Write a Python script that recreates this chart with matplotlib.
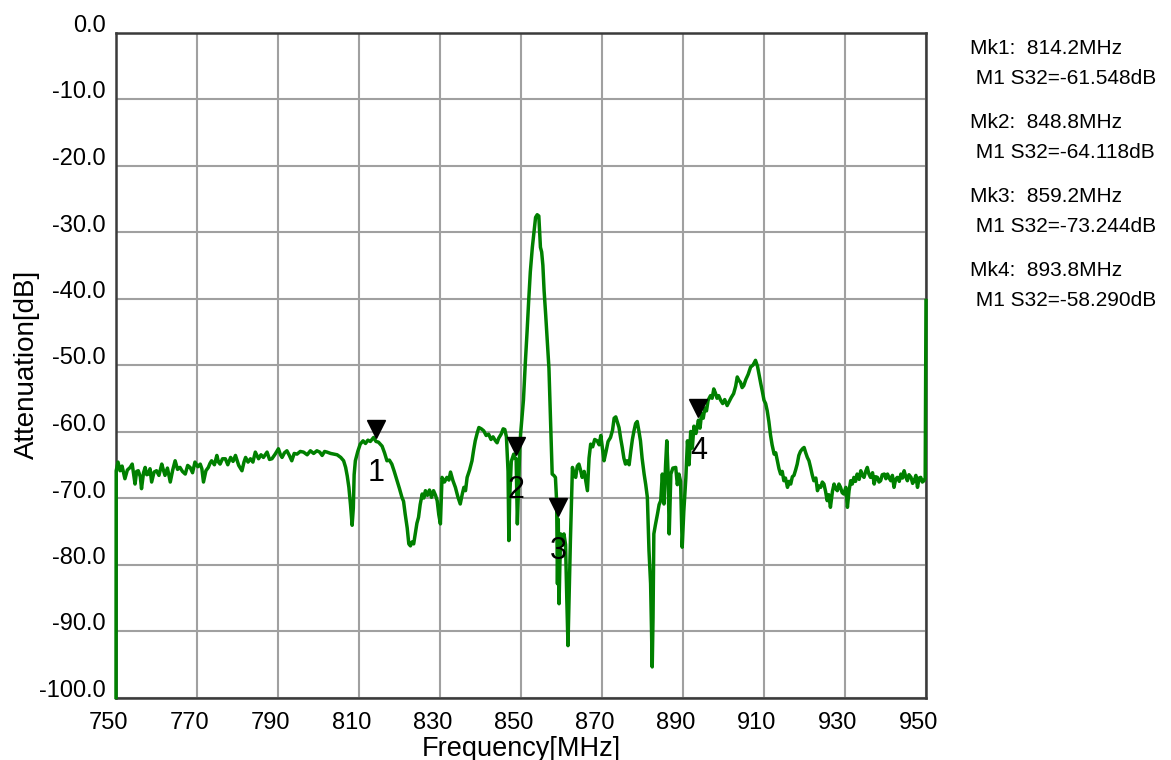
import matplotlib
matplotlib.use("Agg")
import matplotlib.pyplot as plt
import matplotlib.transforms as mtransforms

plt.rcParams['font.family'] = ['Liberation Sans', 'DejaVu Sans']

# ---------------- data ----------------
freq_mhz = [
    750.0, 750.05, 750.5, 751.0, 751.5, 752.2, 752.8, 753.5, 754.0, 754.7, 755.1, 755.5, 756.0, 756.3, 756.8,
    757.2, 757.6, 758.0, 758.4, 758.8, 759.4, 760.0, 760.6, 761.3, 761.7, 762.1, 762.7, 763.4, 764.0, 764.6,
    765.2, 765.8, 766.4, 767.1, 767.7, 768.3, 768.9, 769.5, 770.2, 770.8, 771.2, 771.6, 772.2, 772.8, 773.2,
    773.6, 774.3, 774.9, 775.3, 775.7, 776.3, 777.0, 777.6, 778.3, 778.9, 779.5, 780.3, 781.1, 781.6, 782.0,
    782.6, 783.2, 783.8, 784.4, 785.2, 785.8, 786.4, 787.3, 787.9, 788.5, 789.3, 790.1, 790.6, 791.0, 791.6,
    792.2, 792.8, 793.4, 794.0, 794.7, 795.5, 796.3, 797.2, 798.0, 798.8, 799.6, 800.3, 800.9, 801.5, 802.1,
    803.0, 803.8, 804.6, 805.5, 806.2, 806.7, 807.1, 807.5, 807.9, 808.3, 808.6, 808.8, 809.1, 809.7, 810.3,
    811.0, 811.6, 812.2, 812.8, 813.6, 814.2, 814.8, 815.7, 816.3, 816.9, 817.5, 818.1, 818.7, 819.4, 820.0,
    820.6, 821.0, 821.4, 821.9, 822.3, 822.7, 823.1, 823.5, 823.9, 824.3, 824.7, 825.1, 825.6, 826.0, 826.4,
    826.9, 827.4, 827.9, 828.4, 828.9, 829.3, 829.7, 830.1, 830.5, 831.1, 831.7, 832.2, 832.6, 833.2, 833.8,
    834.4, 835.0, 835.5, 835.9, 836.3, 836.7, 837.3, 837.9, 838.3, 838.7, 839.2, 839.6, 840.2, 840.8, 841.4,
    842.0, 842.6, 843.1, 843.7, 844.1, 844.5, 845.1, 845.6, 846.0, 846.4, 846.8, 847.0, 847.2, 847.6, 848.2,
    848.5, 848.8, 849.1, 849.4, 849.7, 849.9, 850.3, 850.6, 851.1, 851.5, 851.9, 852.3, 852.8, 853.2, 853.6,
    854.0, 854.4, 854.8, 855.1, 855.4, 855.7, 856.1, 856.5, 856.9, 857.3, 857.7, 858.1, 858.5, 858.8, 859.0,
    859.2, 859.4, 859.6, 859.8, 860.2, 860.6, 861.0, 861.3, 861.6, 861.9, 862.2, 862.7, 863.1, 863.5, 863.9,
    864.3, 864.7, 865.1, 865.6, 866.0, 866.4, 866.8, 867.2, 867.7, 868.2, 868.8, 869.3, 869.7, 870.1, 870.5,
    871.0, 871.5, 872.1, 872.6, 873.0, 873.4, 873.8, 874.2, 874.6, 875.0, 875.4, 875.8, 876.2, 876.7, 877.1,
    877.5, 877.9, 878.3, 878.7, 879.1, 879.5, 879.9, 880.4, 880.8, 881.2, 881.6, 882.0, 882.4, 882.6, 882.8,
    883.2, 883.7, 884.1, 884.5, 884.9, 885.3, 885.7, 886.0, 886.3, 886.6, 887.0, 887.5, 888.2, 888.6, 889.0,
    889.4, 889.8, 890.2, 890.7, 891.1, 891.5, 891.9, 892.3, 892.7, 893.2, 893.8, 894.2, 894.6, 895.0, 895.4,
    895.8, 896.2, 896.8, 897.2, 897.6, 898.0, 898.4, 898.8, 899.3, 899.8, 900.3, 900.9, 901.4, 901.9, 902.5,
    903.0, 903.4, 903.8, 904.2, 904.6, 905.0, 905.5, 906.1, 906.7, 907.3, 907.9, 908.4, 908.8, 909.2, 909.6,
    910.0, 910.4, 910.8, 911.2, 911.6, 912.0, 912.5, 912.9, 913.3, 913.7, 914.1, 914.5, 914.9, 915.3, 915.8,
    916.2, 916.6, 917.0, 917.4, 917.8, 918.2, 918.6, 919.0, 919.5, 919.9, 920.3, 920.7, 921.1, 921.5, 921.9,
    922.3, 922.8, 923.2, 923.6, 924.0, 924.4, 924.8, 925.2, 925.6, 926.0, 926.4, 926.9, 927.3, 927.7, 928.1,
    928.5, 928.9, 929.3, 929.7, 930.2, 930.6, 931.0, 931.4, 931.8, 932.2, 932.6, 933.0, 933.5, 933.9, 934.3,
    934.7, 935.1, 935.5, 935.9, 936.3, 936.8, 937.2, 937.6, 938.0, 938.4, 938.8, 939.2, 939.7, 940.1, 940.5,
    940.9, 941.3, 941.7, 942.1, 942.5, 942.9, 943.4, 943.8, 944.2, 944.6, 945.0, 945.4, 945.8, 946.3, 946.7,
    947.1, 947.5, 947.9, 948.3, 948.7, 949.1, 949.5, 949.8, 950.0,
]

atten_db = [
    -100.0, -65.9, -64.6, -65.9, -65.2, -67.1, -65.8, -65.4, -64.9, -67.9, -66.0, -65.9, -66.8, -68.6, -66.2,
    -65.4, -66.5, -66.4, -65.6, -67.6, -66.1, -65.9, -66.6, -64.9, -65.8, -66.6, -65.5, -67.6, -65.8, -64.4,
    -65.7, -65.4, -66.0, -66.4, -65.1, -65.4, -66.2, -64.6, -65.3, -64.9, -65.6, -67.6, -65.9, -65.4, -64.8,
    -64.4, -65.0, -63.6, -64.6, -64.9, -64.1, -64.1, -65.0, -63.9, -64.5, -63.6, -65.1, -65.9, -64.6, -63.9,
    -64.6, -64.1, -64.6, -63.1, -64.1, -63.5, -63.9, -63.1, -64.2, -64.1, -63.4, -62.6, -63.5, -63.9, -63.2,
    -62.9, -63.6, -64.4, -63.3, -63.4, -63.0, -63.1, -63.5, -62.9, -63.3, -62.9, -63.1, -63.6, -63.0, -63.1,
    -63.3, -63.4, -63.5, -63.9, -64.4, -65.4, -66.7, -68.4, -71.0, -74.1, -71.5, -66.5, -64.4, -63.0, -61.9,
    -61.4, -61.8, -61.3, -61.5, -60.9, -61.5, -61.6, -62.2, -63.2, -64.4, -64.3, -64.9, -66.0, -67.4, -68.6,
    -69.9, -70.5, -72.4, -74.5, -76.9, -77.2, -76.6, -76.9, -75.4, -73.8, -72.9, -71.0, -69.4, -70.0, -68.9,
    -69.6, -68.8, -69.9, -68.9, -69.6, -70.4, -72.5, -73.9, -66.9, -67.6, -66.9, -67.3, -66.1, -67.4, -68.4,
    -69.8, -70.9, -69.4, -68.4, -68.9, -66.9, -65.8, -64.4, -62.8, -61.4, -60.2, -59.4, -59.6, -59.9, -60.6,
    -60.4, -61.2, -60.8, -61.4, -61.7, -61.0, -60.4, -59.6, -59.7, -60.8, -66.0, -76.4, -70.0, -64.5, -63.4,
    -64.0, -64.1, -73.9, -68.0, -62.5, -60.4, -57.5, -55.3, -49.3, -45.0, -40.3, -36.0, -32.3, -30.0, -27.8,
    -27.4, -27.6, -32.3, -33.0, -35.0, -38.8, -42.5, -46.5, -50.5, -58.3, -66.4, -66.6, -66.9, -70.5, -82.9,
    -73.2, -85.9, -80.0, -75.4, -76.0, -75.4, -77.0, -85.0, -92.2, -84.0, -76.4, -65.4, -66.4, -66.9, -65.2,
    -64.9, -65.8, -66.9, -66.0, -67.5, -68.9, -64.0, -61.9, -62.3, -61.2, -61.4, -62.0, -60.6, -62.5, -64.4,
    -63.0, -61.5, -60.9, -59.8, -58.0, -57.8, -58.6, -59.4, -61.0, -62.4, -64.0, -64.9, -64.4, -65.0, -63.0,
    -61.2, -59.9, -58.8, -58.5, -59.9, -61.4, -64.0, -66.4, -68.0, -69.9, -77.9, -82.9, -95.4, -88.0, -75.4,
    -74.0, -72.4, -71.0, -70.4, -66.4, -70.9, -65.0, -61.4, -66.0, -75.4, -66.4, -65.5, -65.4, -68.0, -66.4,
    -67.5, -77.4, -72.0, -67.0, -61.4, -65.0, -60.0, -62.5, -59.2, -60.3, -58.3, -59.5, -57.3, -58.0, -56.5,
    -56.9, -55.3, -54.6, -55.0, -53.6, -54.2, -55.0, -54.6, -55.3, -55.8, -55.2, -56.1, -55.5, -54.9, -54.3,
    -53.2, -51.8, -52.3, -52.6, -53.4, -53.1, -52.2, -51.4, -50.3, -50.0, -49.3, -50.2, -51.5, -52.8, -54.0,
    -55.3, -55.8, -56.9, -58.5, -60.5, -62.0, -63.4, -63.2, -64.4, -65.6, -66.4, -66.0, -67.4, -67.0, -68.4,
    -67.5, -67.9, -66.8, -66.6, -65.8, -64.9, -63.6, -63.0, -62.6, -62.4, -63.2, -63.9, -64.4, -65.4, -66.5,
    -67.4, -67.0, -68.9, -68.2, -68.4, -67.6, -67.9, -69.0, -70.4, -69.5, -71.4, -69.0, -67.9, -68.6, -68.9,
    -67.9, -68.4, -69.2, -69.4, -68.4, -71.4, -68.9, -67.4, -67.9, -66.9, -67.5, -66.4, -67.2, -65.9, -66.6,
    -66.9, -66.0, -65.4, -66.4, -66.9, -66.2, -67.9, -66.8, -66.9, -67.6, -67.4, -66.5, -66.4, -67.1, -66.4,
    -67.0, -67.4, -66.6, -68.4, -67.2, -66.9, -67.5, -66.4, -67.0, -65.9, -66.8, -67.4, -66.5, -66.9, -67.8,
    -67.4, -66.6, -68.4, -67.0, -66.9, -67.6, -67.4, -67.0, -40.3,
]

marker_ids = ["1", "2", "3", "4"]
marker_freq = [814.2, 848.8, 859.2, 893.8]
marker_val = [-61.548, -64.118, -73.244, -58.290]

x_ticks = [750, 770, 790, 810, 830, 850, 870, 890, 910, 930, 950]
y_ticks = [0, -10, -20, -30, -40, -50, -60, -70, -80, -90, -100]
y_tick_labels = ["0.0", "-10.0", "-20.0", "-30.0", "-40.0", "-50.0",
                 "-60.0", "-70.0", "-80.0", "-90.0", "-100.0"]

# ---------------- figure ----------------
W, H = 1171, 760
fig = plt.figure(figsize=(W / 100, H / 100), dpi=100)
ax_l, ax_r, ax_t, ax_b = 116, 926, 32.5, 697.5
ax = fig.add_axes([ax_l / W, 1 - ax_b / H, (ax_r - ax_l) / W, (ax_b - ax_t) / H])

ax.set_xlim(750, 950)
ax.set_ylim(-100, 0)
ax.set_xticks(x_ticks)
ax.set_xticklabels([str(v) for v in x_ticks])
ax.set_yticks(y_ticks)
ax.set_yticklabels(y_tick_labels)
ax.tick_params(axis='both', length=0, labelsize=17, colors='black')
ax.tick_params(axis='x', pad=10.5)
ax.tick_params(axis='y', pad=7.5)
ax.grid(True, color='#a0a0a0', linewidth=1.5)
ax.set_axisbelow(True)
for s in ax.spines.values():
    s.set_color('#3a3a3a')
    s.set_linewidth(1.8)

# shift tick labels like the instrument software does
dy = mtransforms.ScaledTranslation(0, 9.0 / 100, fig.dpi_scale_trans)
for lab in ax.get_yticklabels():
    lab.set_transform(lab.get_transform() + dy)
dx = mtransforms.ScaledTranslation(-7.5 / 100, 0, fig.dpi_scale_trans)
for lab in ax.get_xticklabels():
    lab.set_transform(lab.get_transform() + dx)

ax.plot(freq_mhz, atten_db, color='#008000', linewidth=2.5, clip_on=False, zorder=3)

# markers
tri_off = mtransforms.ScaledTranslation(0, 12.5 / 100, fig.dpi_scale_trans)
for mid, mf, mv in zip(marker_ids, marker_freq, marker_val):
    ax.plot([mf], [mv], marker='v', markersize=13, color='black', linestyle='none',
            transform=ax.transData + tri_off, zorder=5, clip_on=False)
    ax.annotate(mid, (mf, mv), xytext=(0, -31 * 0.72), textcoords='offset points',
                ha='center', va='center', fontsize=22, color='black', zorder=6)

fig.text(521 / W, 1 - 749 / H, "Frequency[MHz]", ha='center', va='center', fontsize=19.5)
fig.text(27 / W, 1 - 364 / H, "Attenuation[dB]", ha='center', va='center',
         rotation=90, fontsize=20)

# marker readout panel
for i, (mf, mv) in enumerate(zip(marker_freq, marker_val)):
    y1 = 46.7 + i * 73.8
    y2 = y1 + 30
    fig.text(970.5 / W, 1 - (y1 + 7.5) / H, f"Mk{i + 1}:  {mf:.1f}MHz",
             ha='left', va='baseline', fontsize=15)
    fig.text(970.5 / W, 1 - (y2 + 7.5) / H, f" M1 S32={mv:.3f}dB",
             ha='left', va='baseline', fontsize=15)

fig.savefig("out.png", dpi=100)
